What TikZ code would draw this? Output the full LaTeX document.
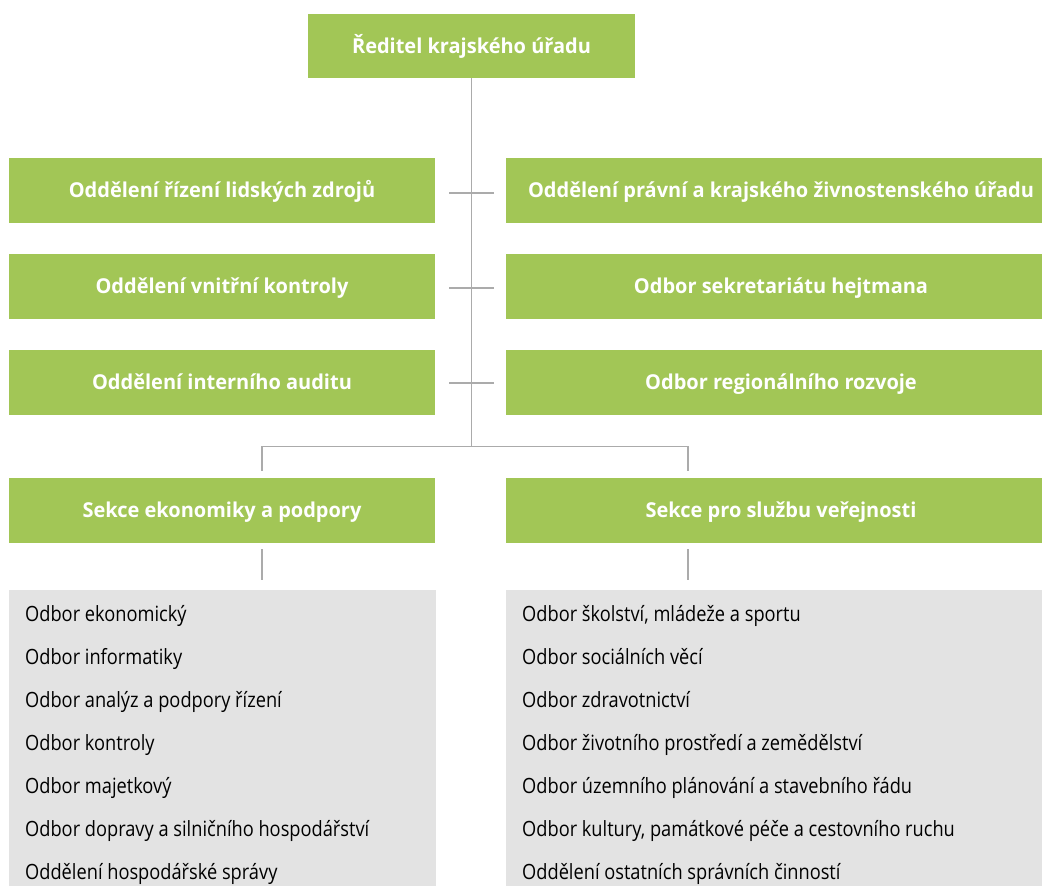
\documentclass[tikz,border=0pt]{standalone}
\usepackage{fontspec}
\setmainfont{Open Sans}[FakeStretch=0.868]
\newfontfamily\boxfont{Open Sans}[FakeStretch=0.975]
\definecolor{boxgreen}{HTML}{A2C656}
\definecolor{listgray}{HTML}{E3E3E3}
\definecolor{linegray}{HTML}{ABABAB}
\begin{document}
\begin{tikzpicture}[x=1pt,y=-1pt,
  gbox/.style={fill=boxgreen,text=white,font=\boxfont\fontsize{20.5}{24}\selectfont\bfseries,inner sep=0pt,minimum height=65pt,text height=14.6pt,text depth=0pt},
  lbox/.style={gbox,minimum width=426pt},
  rbox/.style={gbox,minimum width=536pt,execute at begin node={\hspace*{14pt}}},
  listbox/.style={fill=listgray,inner sep=0pt,anchor=north west,minimum height=296pt},
  item/.style={anchor=base west,inner sep=0pt,font=\fontsize{21}{24}\selectfont},
  conn/.style={draw=linegray,line width=1.5pt}]
\useasboundingbox (0,0) rectangle (1044,886);
\node[gbox,minimum width=327pt,minimum height=64pt] (dir) at (471.5,46) {Ředitel krajského úřadu};
\node[lbox] (l1) at (222,190) {Oddělení řízení lidských zdrojů};
\node[rbox] (r1) at (774,190) {Oddělení právní a krajského živnostenského úřadu};
\node[lbox] (l2) at (222,286.5) {Oddělení vnitřní kontroly};
\node[rbox] (r2) at (774,286.5) {Odbor sekretariátu hejtmana};
\node[lbox] (l3) at (222,382.5) {Oddělení interního auditu};
\node[rbox] (r3) at (774,382.5) {Odbor regionálního rozvoje};
\node[lbox] (s1) at (222,510.5) {Sekce ekonomiky a podpory};
\node[rbox] (s2) at (774,510.5) {Sekce pro službu veřejnosti};
\node[listbox,minimum width=427pt] (g1) at (9,590) {};
\node[listbox,minimum width=536pt] (g2) at (506,590) {};
% items
\foreach \t [count=\i from 0] in {Odbor ekonomický,Odbor informatiky,Odbor analýz a podpory řízení,Odbor kontroly,Odbor majetkový,Odbor dopravy a silničního hospodářství,Oddělení hospodářské správy}
  \node[item] (a\i) at (25,621.5+43*\i) {\t};
\foreach \t [count=\i from 0] in {{Odbor školství, mládeže a sportu},Odbor sociálních věcí,Odbor zdravotnictví,Odbor životního prostředí a zemědělství,Odbor územního plánování a stavebního řádu,{Odbor kultury, památkové péče a cestovního ruchu},Oddělení ostatních správních činností}
  \node[item] (b\i) at (522,621.5+43*\i) {\t};
% connectors
\coordinate (hub) at (471.5,446.5);
\coordinate (hl) at (262,446.5);
\coordinate (hr) at (688,446.5);
\coordinate (dl) at (262,471);
\coordinate (dr) at (688,471);
\draw[conn] (dir.south) -- (hub);
\draw[conn] (dl) -- (hl) -- (hr) -- (dr);
\foreach \y/\n in {193/1,288/2,383/3}{
  \coordinate (tl\n) at (449,\y);
  \coordinate (tr\n) at (494,\y);
  \draw[conn] (tl\n) -- (tr\n);
}
\coordinate (sl1) at (262,549);
\coordinate (sl2) at (262,580);
\coordinate (sr1) at (688,549);
\coordinate (sr2) at (688,580);
\draw[conn] (sl1) -- (sl2);
\draw[conn] (sr1) -- (sr2);
\end{tikzpicture}
\end{document}
